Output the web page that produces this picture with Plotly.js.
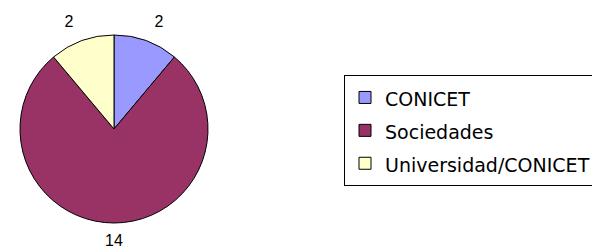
<!DOCTYPE html>
<html>
<head>
<meta charset="utf-8">
<script src="https://cdn.plot.ly/plotly-3.0.1.min.js"></script>
<style>html,body{margin:0;padding:0;background:#fff;}#chart{width:592px;height:249px;}</style>
</head>
<body>
<div id="chart"></div>
<script>
const categories = ["CONICET", "Sociedades", "Universidad/CONICET"];
const values = [2, 14, 2];
const colors = ["#9999FF", "#993366", "#FFFFCC"];

const legendLabels = categories.map(c => '<span style="font-size:19px">' + c + '</span>');

const W = 592, H = 249;
const cx = 114, cy = 129, r = 94;
const rTop = 106;   // radius used to place the two small-slice labels
const rBot = 114;   // ring used to place the large-slice label, centred below the pie
const clear = ['rgba(0,0,0,0)', 'rgba(0,0,0,0)', 'rgba(0,0,0,0)'];
const dom = (rad) => ({x: [(cx - rad)/W, (cx + rad)/W], y: [1 - (cy + rad)/H, 1 - (cy - rad)/H]});
const labelFont = {family: '"Liberation Sans", Arial, sans-serif', size: 16, color: '#000000'};

const data = [
  {
    type: 'pie', labels: legendLabels, values: values, sort: false, direction: 'clockwise', rotation: 0,
    marker: {colors: clear, line: {width: 0}},
    textinfo: 'value', textposition: ['outside', 'none', 'outside'],
    textfont: labelFont, hoverinfo: 'skip', showlegend: false, domain: dom(rTop)
  },
  {
    type: 'pie', labels: legendLabels, values: values, sort: false, direction: 'clockwise', rotation: 0,
    hole: 0.965,
    marker: {colors: clear, line: {width: 0}},
    textinfo: 'value', textposition: ['none', 'inside', 'none'], insidetextorientation: 'horizontal',
    textfont: labelFont, hoverinfo: 'skip', showlegend: false, domain: dom(rBot)
  },
  {
    type: 'pie', labels: legendLabels, values: values, sort: false, direction: 'clockwise', rotation: 0,
    marker: {colors: colors, line: {color: '#000000', width: 1}},
    textinfo: 'none', hoverinfo: 'label+value', domain: dom(r)
  }
];

const layout = {
  width: W,
  height: H,
  margin: {l: 0, r: 0, t: 0, b: 0, autoexpand: false},
  paper_bgcolor: '#ffffff',
  showlegend: true,
  uniformtext: {mode: 'show', minsize: 16},
  legend: {
    x: 344/W, xanchor: 'left',
    y: 1 - 75/H, yanchor: 'top',
    bordercolor: '#000000', borderwidth: 1,
    bgcolor: '#ffffff',
    font: {family: '"DejaVu Sans", sans-serif', size: 23, color: '#000000'}
  }
};

Plotly.newPlot('chart', data, layout, {displayModeBar: false, staticPlot: true});
</script>
</body>
</html>
